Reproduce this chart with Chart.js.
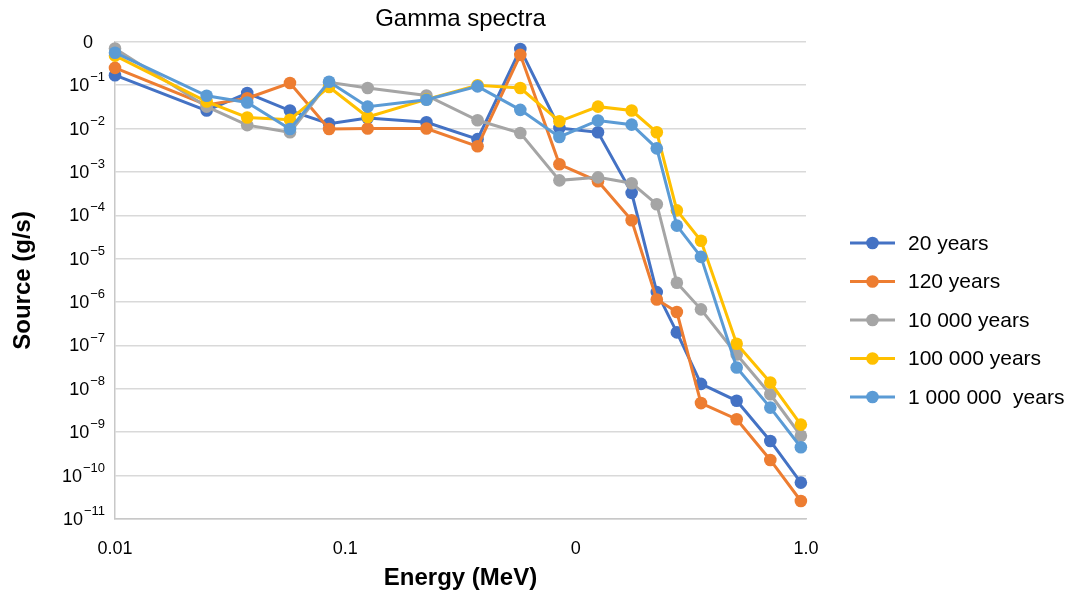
<!DOCTYPE html>
<html>
<head>
<meta charset="utf-8">
<script src="https://cdn.jsdelivr.net/npm/chart.js@4.4.1/dist/chart.umd.min.js"></script>
<style>
html,body{margin:0;padding:0;background:#ffffff;}
#wrap{width:1070px;height:592px;}
</style>
</head>
<body>
<div id="wrap"><canvas id="c" width="1070" height="592"></canvas></div>
<script>
// ---- Data ----
const energies = [0.01, 0.025, 0.0375, 0.0575, 0.085, 0.125, 0.225, 0.375, 0.575, 0.85, 1.25, 1.75, 2.25, 2.75, 3.5, 5.0, 7.0, 9.5];

const seriesNames = ['20 years', '120 years', '10 000 years', '100 000 years', '1 000 000  years'];

const years20 = [0.17, 0.026, 0.066, 0.026, 0.013, 0.0175, 0.014, 0.0057, 0.68, 0.0103, 0.0082, 3.3e-4, 1.7e-6, 2.0e-7, 1.3e-8, 5.3e-9, 6.3e-10, 6.9e-11];
const years120 = [0.25, 0.035, 0.05, 0.112, 0.0098, 0.010, 0.010, 0.0039, 0.50, 0.0015, 6.1e-4, 7.7e-5, 1.15e-6, 5.9e-7, 4.7e-9, 2.0e-9, 2.3e-10, 2.6e-11];
const years10k = [0.70, 0.032, 0.012, 0.0082, 0.116, 0.086, 0.058, 0.0155, 0.0079, 6.4e-4, 7.5e-4, 5.5e-4, 1.8e-4, 2.8e-6, 6.8e-7, 6.2e-8, 7.5e-9, 8.3e-10];
const years100k = [0.48, 0.042, 0.018, 0.016, 0.091, 0.0185, 0.047, 0.10, 0.086, 0.0147, 0.032, 0.026, 0.0082, 1.3e-4, 2.6e-5, 1.1e-7, 1.4e-8, 1.5e-9];
const years1M = [0.56, 0.057, 0.040, 0.0098, 0.12, 0.032, 0.046, 0.094, 0.027, 0.0064, 0.0154, 0.0123, 0.0035, 5.8e-5, 1.1e-5, 3.1e-8, 3.7e-9, 4.5e-10];

const seriesColors = ['#4472C4', '#ED7D31', '#A5A5A5', '#FFC000', '#5B9BD5'];

const xTickValues = [0.01, 0.1, 1, 10];
const xTickLabels = ['0.01', '0.1', '0', '1.0'];

const yTickValues = [1, 1e-1, 1e-2, 1e-3, 1e-4, 1e-5, 1e-6, 1e-7, 1e-8, 1e-9, 1e-10, 1e-11];
const yTickLabels = ['0', '10^\u22121', '10^\u22122', '10^\u22123', '10^\u22124', '10^\u22125', '10^\u22126', '10^\u22127', '10^\u22128', '10^\u22129', '10^\u221210', '10^\u221211'];

// ---- Build datasets ----
const allSeries = [years20, years120, years10k, years100k, years1M];
const datasets = allSeries.map((vals, i) => ({
  label: seriesNames[i],
  data: energies.map((e, j) => ({ x: e, y: vals[j] })),
  borderColor: seriesColors[i],
  backgroundColor: seriesColors[i],
  pointBackgroundColor: seriesColors[i],
  pointBorderColor: seriesColors[i],
  pointBorderWidth: 0,
  pointRadius: 6.3,
  borderWidth: 3,
  tension: 0,
  clip: false,
  order: allSeries.length - 1 - i
}));

const FONT = '"Liberation Sans", Arial, Helvetica, sans-serif';

// y tick labels with real superscripts, positioned by the y scale
const yLabels = {
  id: 'yLabels',
  afterDraw(chart) {
    const s = chart.scales.y;
    const ctx = chart.ctx;
    const right = s.right - 10;
    yTickValues.forEach((v, i) => {
      const y = s.getPixelForValue(v);
      const parts = yTickLabels[i].split('^');
      ctx.save();
      ctx.fillStyle = '#000000';
      ctx.textBaseline = 'middle';
      ctx.textAlign = 'left';
      if (parts.length === 1) {
        ctx.font = '18px ' + FONT;
        const w = ctx.measureText(parts[0]).width;
        ctx.fillText(parts[0], right - 12 - w, y + 1);
      } else {
        ctx.font = '13px ' + FONT;
        const ew = ctx.measureText(parts[1]).width;
        ctx.font = '18px ' + FONT;
        const bw = ctx.measureText(parts[0]).width;
        ctx.fillText(parts[0], right - ew - bw - 1, y + 1);
        ctx.font = '13px ' + FONT;
        ctx.fillText(parts[1], right - ew, y - 7.5);
      }
      ctx.restore();
    });
  }
};

const sideLegend = {
  id: 'sideLegend',
  afterDraw(chart) {
    const ctx = chart.ctx;
    const ca = chart.chartArea;
    const x0 = ca.right + 44;
    chart.data.datasets.forEach((ds, i) => {
      const y = 243 + i * 38.5;
      ctx.save();
      ctx.strokeStyle = ds.borderColor;
      ctx.lineWidth = 3;
      ctx.beginPath();
      ctx.moveTo(x0, y);
      ctx.lineTo(x0 + 45, y);
      ctx.stroke();
      ctx.fillStyle = ds.borderColor;
      ctx.beginPath();
      ctx.arc(x0 + 22.5, y, 6.3, 0, Math.PI * 2);
      ctx.fill();
      ctx.fillStyle = '#000000';
      ctx.font = '21px ' + FONT;
      ctx.textBaseline = 'middle';
      ctx.textAlign = 'left';
      ctx.fillText(ds.label, x0 + 58, y + 1);
      ctx.restore();
    });
  }
};

new Chart(document.getElementById('c'), {
  type: 'line',
  data: { datasets },
  plugins: [yLabels, sideLegend],
  options: {
    responsive: false,
    animation: false,
    devicePixelRatio: 1,
    layout: { padding: { left: 0, right: 264, top: 0, bottom: 0 } },
    plugins: {
      legend: { display: false },
      tooltip: { enabled: false },
      title: {
        display: true,
        text: 'Gamma spectra',
        fullSize: false,
        color: '#000000',
        font: { family: FONT, size: 24, weight: 'normal', lineHeight: 1.2 },
        padding: { top: 5, bottom: 8 }
      }
    },
    scales: {
      x: {
        type: 'logarithmic',
        min: 0.01,
        max: 10,
        afterBuildTicks: (s) => { s.ticks = xTickValues.map(v => ({ value: v })); },
        afterFit: (s) => { s.height = 73; },
        ticks: {
          autoSkip: false,
          maxRotation: 0,
          padding: 19,
          color: '#000000',
          font: { family: FONT, size: 18 },
          callback: (value) => xTickLabels[xTickValues.indexOf(value)]
        },
        grid: { display: false, drawTicks: false },
        border: { display: true, color: '#c8c8c8', width: 1.5 },
        title: {
          display: true,
          text: 'Energy (MeV)',
          color: '#000000',
          font: { family: FONT, size: 24, weight: 'bold', lineHeight: 1.2 },
          padding: { top: 0, bottom: -1 }
        }
      },
      y: {
        type: 'logarithmic',
        min: 1e-11,
        max: 1,
        afterBuildTicks: (s) => { s.ticks = yTickValues.slice().reverse().map(v => ({ value: v })); },
        afterFit: (s) => { s.width = 115; },
        ticks: { display: false },
        grid: { color: '#d9d9d9', lineWidth: 1.5, drawTicks: false },
        border: { display: true, color: '#c8c8c8', width: 1.5 },
        title: {
          display: true,
          text: 'Source (g/s)',
          color: '#000000',
          font: { family: FONT, size: 24, weight: 'bold', lineHeight: 1.2 },
          padding: { top: 9, bottom: 0 }
        }
      }
    }
  }
});
</script>
</body>
</html>
